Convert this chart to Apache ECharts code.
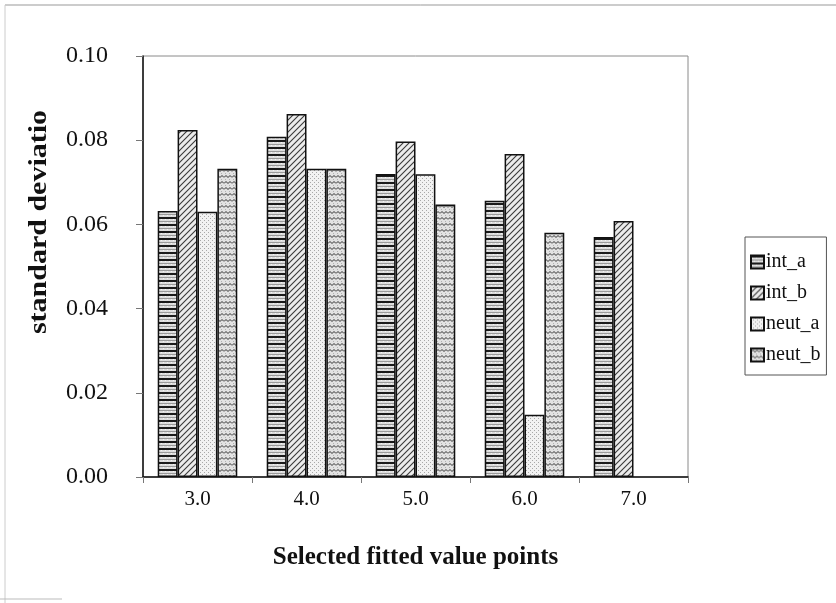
<!DOCTYPE html>
<html>
<head>
<meta charset="utf-8">
<script src="https://cdn.jsdelivr.net/npm/echarts@6/dist/echarts.min.js"></script>
<style>
html,body{margin:0;padding:0;background:#fff;}
#chart{width:836px;height:603px;}
</style>
</head>
<body>
<div id="chart"></div>
<script>
const categories = ['3.0', '4.0', '5.0', '6.0', '7.0'];
const seriesNames = ['int_a', 'int_b', 'neut_a', 'neut_b'];
const int_a  = [0.0632, 0.0808, 0.0720, 0.0656, 0.0570];
const int_b  = [0.0824, 0.0862, 0.0797, 0.0767, 0.0608];
const neut_a = [0.0630, 0.0732, 0.0719, 0.0148, null];
const neut_b = [0.0732, 0.0732, 0.0647, 0.0580, null];
const yTicks = { min: 0, max: 0.1, interval: 0.02 };
const yTitle = 'standard deviation';
const xTitle = 'Selected fitted value points';

function pat(w, h, draw) {
  const c = document.createElement('canvas');
  c.width = w; c.height = h;
  const g = c.getContext('2d');
  draw(g, w, h);
  return { image: c, repeat: 'repeat' };
}
const patterns = [
  pat(4, 7, (g, w, h) => {
    g.fillStyle = '#dcdcdc'; g.fillRect(0, 0, w, h);
    g.fillStyle = '#1a1a1a'; g.fillRect(0, 0, w, 2);
    g.fillStyle = '#9a9a9a'; g.fillRect(0, 4, w, 1);
    g.fillStyle = '#f4f4f4'; g.fillRect(1, 2, 1, 1); g.fillRect(3, 5, 1, 1);
  }),
  pat(6, 6, (g, w, h) => {
    g.fillStyle = '#ececec'; g.fillRect(0, 0, w, h);
    g.strokeStyle = '#3a3a3a'; g.lineWidth = 1.1;
    g.beginPath();
    g.moveTo(-1, 7); g.lineTo(7, -1);
    g.moveTo(-4, 4); g.lineTo(4, -4);
    g.moveTo(2, 10); g.lineTo(10, 2);
    g.stroke();
  }),
  pat(4, 4, (g, w, h) => {
    g.fillStyle = '#f2f2f2'; g.fillRect(0, 0, w, h);
    g.fillStyle = '#a8a8a8'; g.fillRect(0, 0, 1, 1); g.fillRect(2, 2, 1, 1);
  }),
  pat(8, 6, (g, w, h) => {
    g.fillStyle = '#e2e2e2'; g.fillRect(0, 0, w, h);
    g.strokeStyle = '#2e2e2e'; g.lineWidth = 1;
    g.beginPath();
    g.moveTo(0, 3.5); g.lineTo(2, 1.5); g.lineTo(4, 3.5); g.lineTo(6, 1.5); g.lineTo(8, 3.5);
    g.stroke();
    g.fillStyle = '#b0b0b0'; g.fillRect(1, 5, 1, 1); g.fillRect(5, 5, 1, 1);
  })
];
const dataSets = [int_a, int_b, neut_a, neut_b];

const chart = echarts.init(document.getElementById('chart'), null, { renderer: 'canvas' });
const serif = '"Liberation Serif", "Times New Roman", serif';
chart.setOption({
  animation: false,
  backgroundColor: '#fff',
  textStyle: { fontFamily: serif },
  graphic: [
    { type: 'line', shape: { x1: 5, y1: 5, x2: 836, y2: 5 }, style: { stroke: '#999', lineWidth: 1 } },
    { type: 'line', shape: { x1: 5, y1: 5, x2: 5, y2: 603 }, style: { stroke: '#ccc', lineWidth: 1 } },
    { type: 'line', shape: { x1: 0, y1: 599, x2: 62, y2: 599 }, style: { stroke: '#bbb', lineWidth: 1 } },
    {
      type: 'text', x: 40, y: 222, rotation: Math.PI / 2, scaleX: 1.2, scaleY: 1,
      style: {
        text: yTitle, fontFamily: serif, fontSize: 25, fontWeight: 'bold', fill: '#111',
        align: 'center', verticalAlign: 'middle',
        width: 196, overflow: 'truncate', ellipsis: ''
      }
    }
  ],
  grid: { left: 143, right: 148, top: 56, bottom: 126, show: true, borderColor: '#8a8a8a', borderWidth: 1 },
  legend: {
    orient: 'vertical',
    left: 745, top: 237,
    data: seriesNames,
    icon: 'rect',
    itemWidth: 13, itemHeight: 13, itemGap: 11,
    padding: [15, 6, 10, 5],
    borderColor: '#555', borderWidth: 1,
    textStyle: { fontFamily: serif, fontSize: 20, color: '#111', padding: [0, 0, 0, -3] }
  },
  xAxis: {
    type: 'category',
    data: categories,
    name: xTitle,
    nameLocation: 'middle',
    nameGap: 68,
    nameTextStyle: { fontFamily: serif, fontSize: 25, fontWeight: 'bold', color: '#111' },
    axisLine: { lineStyle: { color: '#111', width: 1.5 } },
    axisTick: { show: true, length: 6, lineStyle: { color: '#777' } },
    axisLabel: { fontFamily: serif, fontSize: 21, color: '#111', margin: 12 }
  },
  yAxis: {
    type: 'value',
    min: yTicks.min, max: yTicks.max, interval: yTicks.interval,
    axisLine: { show: true, lineStyle: { color: '#111', width: 1.5 } },
    axisTick: { show: true, length: 7, lineStyle: { color: '#777' } },
    axisLabel: { fontFamily: serif, fontSize: 24, color: '#111', margin: 35, formatter: v => v.toFixed(2) },
    splitLine: { show: false }
  },
  series: seriesNames.map((name, i) => ({
    name: name,
    type: 'bar',
    data: dataSets[i],
    barGap: '0%',
    barCategoryGap: '27%',
    itemStyle: { color: patterns[i], borderColor: '#111', borderWidth: 1.5 }
  }))
});
</script>
</body>
</html>
